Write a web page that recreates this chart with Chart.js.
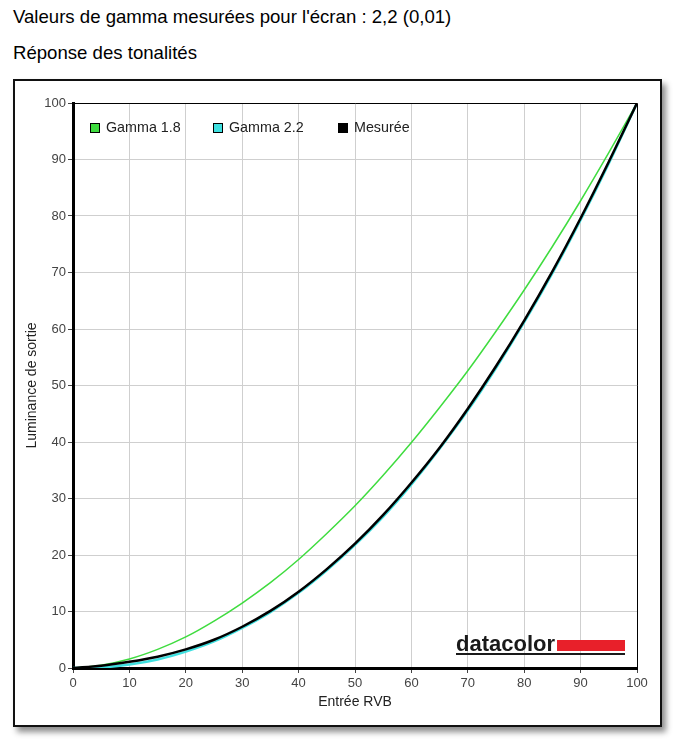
<!DOCTYPE html>
<html>
<head>
<meta charset="utf-8">
<script src="https://cdn.jsdelivr.net/npm/chart.js@4"></script>
<style>
    body { margin: 0; background: #fff; font-family: "Liberation Sans", Arial, sans-serif; color: #000; }
    .title { position: absolute; left: 13px; font-size: 18.6px; }
    #t1 { top: 6px; }
    #t2 { top: 42px; }
    #box {
        position: absolute; left: 13px; top: 79px; width: 645px; height: 644px;
        border: 2px solid #111; background: #fff;
        box-shadow: 4px 5px 6px rgba(0,0,0,0.45);
    }
    #box canvas { display: block; }
</style>
</head>
<body>
<div class="title" id="t1">Valeurs de gamma mesurées pour l'écran : 2,2 (0,01)</div>
<div class="title" id="t2">Réponse des tonalités</div>
<div id="box"><canvas id="gammaChart" width="645" height="644"></canvas></div>
<script>
// Data
const inputLevels = [0, 5, 10, 15, 20, 25, 30, 35, 40, 45, 50, 55, 60, 65, 70, 75, 80, 85, 90, 95, 100];
const gamma18 = [0, 0.5, 1.6, 3.3, 5.5, 8.3, 11.5, 15.1, 19.2, 23.8, 28.7, 34.1, 39.9, 46.1, 52.6, 59.6, 66.9, 74.6, 82.7, 91.2, 100];
const gamma22 = [0, 0.1, 0.6, 1.5, 2.9, 4.7, 7.1, 9.9, 13.3, 17.3, 21.8, 26.8, 32.5, 38.8, 45.6, 53.1, 61.2, 69.9, 79.3, 89.3, 100];
const measured = [0, 0.4, 1.1, 2.0, 3.3, 5.0, 7.3, 10.1, 13.5, 17.5, 22.0, 27.1, 32.8, 39.0, 45.9, 53.4, 61.5, 70.2, 79.6, 89.6, 100];
const seriesNames = ['Gamma 1.8', 'Gamma 2.2', 'Mesurée'];
const seriesColors = ['#3fdc3f', '#3fe0e0', '#000000'];

function toPoints(values) {
    return inputLevels.map((x, i) => ({ x: x, y: values[i] }));
}

// Top/right frame, legend inside the plot and the datacolor mark
const decorPlugin = {
    id: 'decor',
    afterDraw(chart) {
        const ctx = chart.ctx;
        const a = chart.chartArea;
        ctx.save();
        ctx.strokeStyle = '#000';
        ctx.lineWidth = 1;
        ctx.beginPath();
        ctx.moveTo(a.left, a.top + 0.5);
        ctx.lineTo(a.right + 0.5, a.top + 0.5);
        ctx.lineTo(a.right + 0.5, a.bottom);
        ctx.stroke();

        // legend
        ctx.font = '14.3px "Liberation Sans", Arial, sans-serif';
        ctx.textBaseline = 'middle';
        const legendX = [a.left + 17, a.left + 140, a.left + 265];
        const legendY = a.top + 25;
        seriesNames.forEach((name, i) => {
            ctx.fillStyle = seriesColors[i];
            ctx.fillRect(legendX[i], legendY - 5, 10, 10);
            ctx.strokeStyle = '#000';
            ctx.strokeRect(legendX[i] + 0.5, legendY - 4.5, 9, 9);
            ctx.fillStyle = '#222';
            ctx.fillText(name, legendX[i] + 16, legendY);
        });

        // datacolor mark
        const lx = a.left + 383, ly = a.bottom - 17;
        ctx.font = 'bold 22px "Liberation Sans", Arial, sans-serif';
        ctx.textBaseline = 'alphabetic';
        ctx.fillStyle = '#1a1a1a';
        ctx.fillText('datacolor', lx, ly);
        const tw = ctx.measureText('datacolor').width;
        ctx.fillStyle = '#e8202a';
        ctx.fillRect(lx + tw + 2, ly - 11, 169 - tw - 2, 11);
        ctx.fillStyle = '#1a1a1a';
        ctx.fillRect(lx, ly + 2, 169, 2);
        ctx.restore();
    }
};

function initChart() {
    const ctx = document.getElementById('gammaChart').getContext('2d');
    const tickFont = { size: 13, family: '"Liberation Sans", Arial' };
    const titleFont = { size: 14, family: '"Liberation Sans", Arial' };
    new Chart(ctx, {
        type: 'line',
        data: {
            datasets: [
                { label: seriesNames[0], data: toPoints(gamma18), borderColor: seriesColors[0], borderWidth: 1.5, order: 3 },
                { label: seriesNames[1], data: toPoints(gamma22), borderColor: seriesColors[1], borderWidth: 2.5, order: 2 },
                { label: seriesNames[2], data: toPoints(measured), borderColor: seriesColors[2], borderWidth: 2.5, order: 1 }
            ]
        },
        options: {
            responsive: false,
            animation: false,
            layout: { padding: { top: 22, right: 23, left: 0, bottom: 0 } },
            elements: {
                point: { radius: 0 },
                line: { tension: 0.4, cubicInterpolationMode: 'monotone', fill: false }
            },
            plugins: {
                legend: { display: false },
                tooltip: { enabled: false }
            },
            scales: {
                x: {
                    type: 'linear', min: 0, max: 100,
                    ticks: { stepSize: 10, color: '#444', font: tickFont, padding: 3 },
                    grid: { color: '#cfcfcf', tickColor: '#444', tickLength: 5 },
                    border: { color: '#000', width: 3 },
                    title: { display: true, text: 'Entrée RVB', color: '#222', font: titleFont, padding: { top: 4, bottom: 14 } },
                    afterFit(scale) { scale.height = 57; }
                },
                y: {
                    min: 0, max: 100,
                    ticks: { stepSize: 10, color: '#444', font: tickFont, padding: 2 },
                    grid: { color: '#cfcfcf', tickColor: '#444', tickLength: 5 },
                    border: { color: '#000', width: 3 },
                    title: { display: true, text: 'Luminance de sortie', color: '#222', font: titleFont, padding: { top: 9, bottom: 4 } },
                    afterFit(scale) { scale.width = 58; }
                }
            }
        },
        plugins: [decorPlugin]
    });
}

document.addEventListener('DOMContentLoaded', initChart);
</script>
</body>
</html>
